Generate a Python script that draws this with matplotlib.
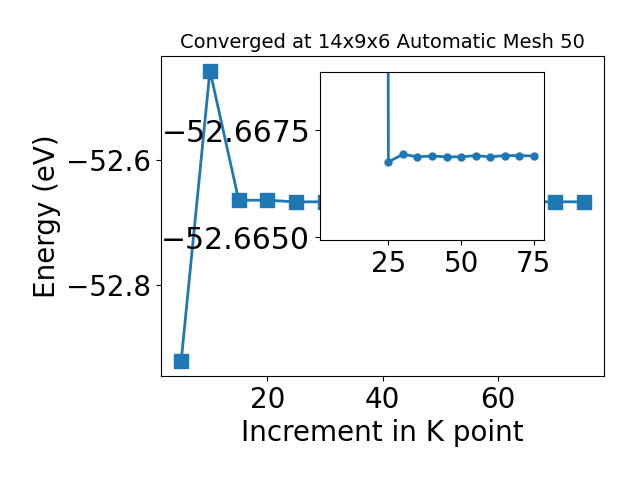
import matplotlib
matplotlib.use('Agg')
import matplotlib.pyplot as plt

# k-point increments and total energies (eV)
kpoints = [5, 10, 15, 20, 25, 30, 35, 40, 45, 50, 55, 60, 65, 70, 75]
energies = [-52.9226, -52.4565, -52.6643, -52.6643, -52.66700, -52.66682,
            -52.66688, -52.66686, -52.66688, -52.66688, -52.66685, -52.66688,
            -52.66685, -52.66685, -52.66686]

# inset series as drawn (first point is far off the top of the inset)
inset_k = [20, 25, 30, 35, 40, 45, 50, 55, 60, 65, 70, 75]
inset_e = [-52.4565, -52.66700, -52.66682, -52.66688, -52.66686, -52.66688,
           -52.66688, -52.66685, -52.66688, -52.66685, -52.66685, -52.66686]

# inset y ticks as they appear on the chart
inset_yticks = [-52.66875, -52.66626]
inset_yticklabels = ['\u221252.6650', '\u221252.6675']

fig = plt.figure(figsize=(6.4, 4.8), dpi=100)
ax = fig.add_axes([0.2516, 0.2167, 0.6922, 0.6667])
ax.plot(kpoints, energies, marker='s', markersize=10, linewidth=2)
ax.set_xlabel('Increment in K point', fontsize=20)
ax.set_ylabel('Energy (eV)', fontsize=20)
ax.tick_params(labelsize=20)
ax.set_title('Converged at 14x9x6 Automatic Mesh 50', fontsize=14)

# zoomed inset
ax2 = fig.add_axes([0.5, 0.5, 0.35, 0.35])
ax2.plot(inset_k, inset_e, marker='o', markersize=5, linewidth=2)
ax2.set_xlim(ax.get_xlim())
ax2.set_ylim(-52.66882, -52.6649)
ax2.set_yticks(inset_yticks)
ax2.set_yticklabels(inset_yticklabels, fontsize=21.5)
ax2.set_xticks([25, 50, 75])
ax2.tick_params(axis='x', labelsize=20)

fig.savefig('out.png')
